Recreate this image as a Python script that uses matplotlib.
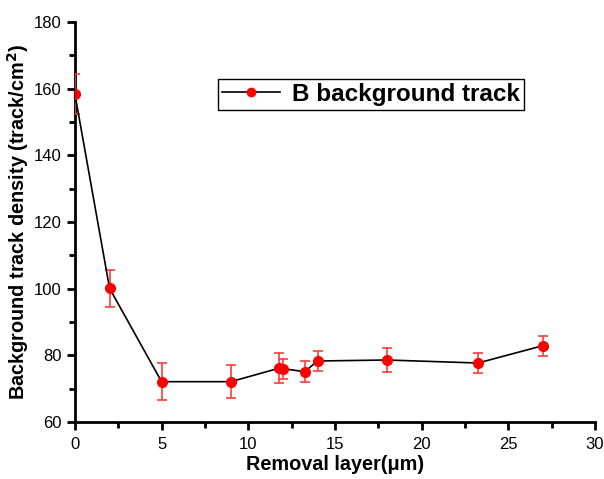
import numpy as np
import matplotlib.pyplot as plt
from matplotlib.lines import Line2D
from matplotlib.ticker import MultipleLocator

plt.rcParams['font.family'] = ['Liberation Sans', 'DejaVu Sans']

# datos
layer = [0, 2, 5, 9, 11.75, 12.0, 13.25, 14.0, 18.0, 23.25, 27.0]
density = [158.4, 100.1, 72.1, 72.1, 76.1, 76.0, 75.1, 78.3, 78.6, 77.7, 82.9]
err = [6.0, 5.5, 5.5, 4.9, 4.5, 3.0, 3.2, 3.0, 3.5, 3.0, 3.0]

fig = plt.figure(figsize=(6.04, 4.79), dpi=100)
ax = fig.add_axes([0.124, 0.119, 0.861, 0.835])

ax.errorbar(layer, density, yerr=err, color='black', lw=1.2,
            marker='o', ms=7, mfc='red', mec='red',
            ecolor='#ff3b3b', elinewidth=1.2, capsize=3.5, capthick=1.2, zorder=3)

ax.set_xlim(0, 30)
ax.set_ylim(60, 180)
ax.xaxis.set_major_locator(MultipleLocator(5))
ax.xaxis.set_minor_locator(MultipleLocator(2.5))
ax.yaxis.set_major_locator(MultipleLocator(20))
ax.yaxis.set_minor_locator(MultipleLocator(10))

for s in ['top', 'right']:
    ax.spines[s].set_visible(False)
for s in ['left', 'bottom']:
    ax.spines[s].set_linewidth(2)
ax.tick_params(which='major', length=6, width=2, labelsize=12, direction='out')
ax.tick_params(axis='x', which='major', pad=5)
ax.tick_params(which='minor', length=4, width=2, direction='out')

ax.set_xlabel('Removal layer(μm)', fontsize=14.3, fontweight='bold', labelpad=2)
ax.set_ylabel('Background track density (track/cm$\\mathbf{^2}$)', fontsize=14.3,
              fontweight='bold', labelpad=2)

handle = Line2D([], [], color='black', lw=1.2, marker='o', ms=6, mfc='red', mec='red')
leg = ax.legend([handle], ['B background track'], loc='upper left',
                bbox_to_anchor=(0.275, 0.857), fancybox=False, framealpha=1,
                edgecolor='black', handlelength=2.4, handletextpad=0.5,
                prop={'weight': 'bold', 'size': 17.5}, borderpad=0.15,
                borderaxespad=0)
leg.get_frame().set_linewidth(1.0)

fig.savefig('out.png', dpi=100)
